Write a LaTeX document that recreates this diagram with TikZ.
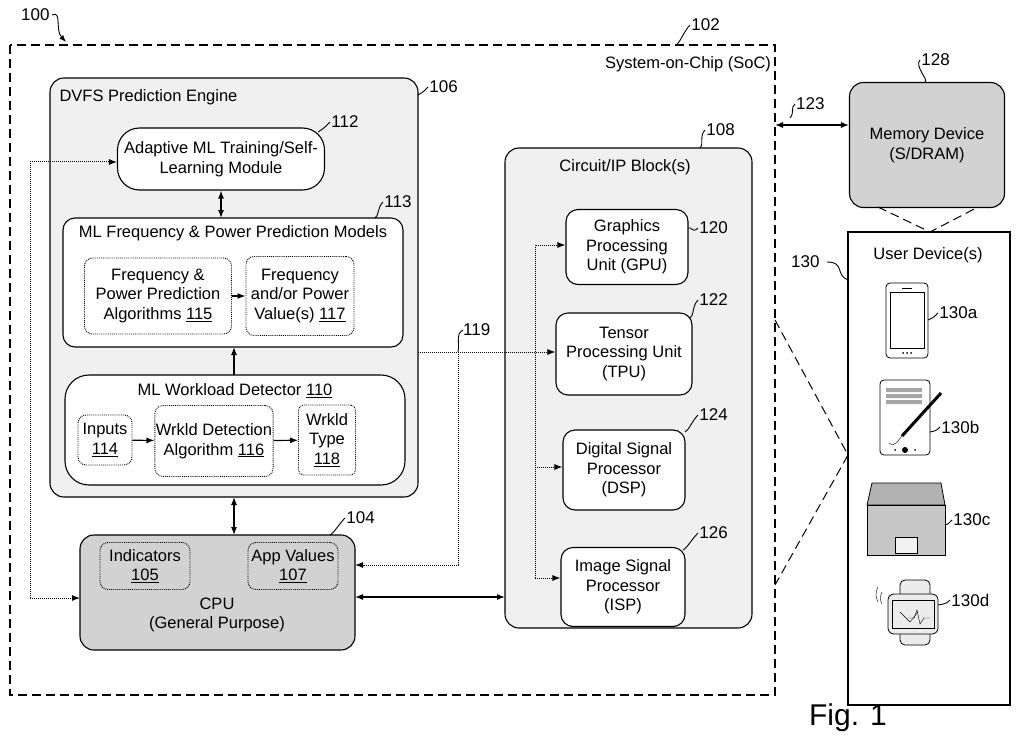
\documentclass[tikz,border=0pt]{standalone}
\usepackage{fontspec}
\setmainfont{Liberation Sans}
\usetikzlibrary{arrows.meta}
\tikzset{
  box/.style={draw, line width=1.1pt, rounded corners=12pt, fill=white, align=center, inner sep=1pt},
  soft/.style={draw, line width=1.1pt, rounded corners=14pt, fill=gray!12},
  dark/.style={draw, line width=1.1pt, rounded corners=14pt, fill=gray!35},
  sub/.style={draw, densely dotted, line width=0.9pt, rounded corners=8pt, align=center, inner sep=1pt},
  link/.style={line width=1.2pt, -{Latex[length=8pt]}},
  dlink/.style={line width=1.2pt, {Latex[length=8pt]}-{Latex[length=8pt]}},
  dotlink/.style={densely dotted, line width=1pt, -{Latex[length=8pt]}},
  longdash/.style={line width=1.2pt, dash pattern=on 9pt off 5pt},
  refnum/.style={font=\fontsize{17}{19}\selectfont, anchor=west, inner sep=1pt}
}
\newcommand{\leader}[3]{\draw[line width=0.9pt] #1 .. controls +(4,-2) and +(-6,6) .. #2 node[refnum] {#3};}
\begin{document}
\begin{tikzpicture}[x=1pt,y=-1pt,font=\fontsize{16.5}{19.5}\selectfont]
  \useasboundingbox (0,0) rectangle (1024,746);

  % SoC
  \draw[longdash] (10,45) rectangle (775,695);
  \node (soctitle) at (688,64) {System-on-Chip (SoC)};
  \node[refnum] (n100) at (20,15) {100};
  \draw[line width=0.9pt, -{Latex[length=7pt]}] (52,15) .. controls (62,10) and (55,30) .. (66,42);
  \leader{(676,45)}{(690,25)}{102}

  % DVFS Prediction Engine
  \draw[soft] (50,78) rectangle (418,497);
  \node[anchor=west] (dvfs) at (56,97) {DVFS Prediction Engine};
  \leader{(418,95)}{(428,87)}{106}

  \node[box, minimum width=207pt, minimum height=62pt, rounded corners=22pt] (train) at (221,159)
       {Adaptive ML Training/Self-\\Learning Module};
  \leader{(318,132)}{(330,122)}{112}

  \draw[box] (63,218) rectangle (403,347);
  \node (models) at (233,233) {ML Frequency \& Power Prediction Models};
  \leader{(375,218)}{(383,202)}{113}
  \node[sub, minimum width=147pt, minimum height=76pt] (algos) at (158,296)
       {Frequency \&\\Power Prediction\\Algorithms \underline{115}};
  \node[sub, minimum width=108pt, minimum height=79pt] (values) at (300,296)
       {Frequency\\and/or Power\\Value(s) \underline{117}};

  \draw[box, rounded corners=24pt] (65,375) rectangle (405,485);
  \node (detector) at (235,391) {ML Workload Detector \underline{110}};
  \node[sub, minimum width=54pt, minimum height=50pt] (inputs) at (105,440) {Inputs\\\underline{114}};
  \node[sub, minimum width=115pt, minimum height=71pt] (detalg) at (214,441)
       {Wrkld Detection\\Algorithm \underline{116}};
  \node[sub, minimum width=57pt, minimum height=70pt, rounded corners=5pt] (wtype) at (327,440)
       {Wrkld\\Type\\\underline{118}};
  \coordinate (modelsS) at (234,347);
  \coordinate (detN) at (234,375);

  % CPU
  \draw[dark] (80,535) rectangle (355,650);
  \node[sub, minimum width=90pt, minimum height=47pt] (ind) at (145,566) {Indicators\\\underline{105}};
  \node[sub, minimum width=90pt, minimum height=47pt] (app) at (293,566) {App Values\\\underline{107}};
  \node[align=center] (cpu) at (217,615) {CPU\\(General Purpose)};
  \leader{(330,535)}{(345,518)}{104}

  % Circuit/IP Blocks
  \draw[soft] (505,148) rectangle (752,628);
  \node (blocks) at (625,167) {Circuit/IP Block(s)};
  \leader{(700,148)}{(705,130)}{108}
  \node[box, minimum width=122pt, minimum height=75pt] (gpu) at (627,247) {Graphics\\Processing\\Unit (GPU)};
  \leader{(688,228)}{(698,228)}{120}
  \node[box, minimum width=136pt, minimum height=82pt] (tpu) at (624,354) {Tensor\\Processing Unit\\(TPU)};
  \leader{(690,318)}{(698,300)}{122}
  \node[box, minimum width=122pt, minimum height=80pt] (dsp) at (624,470) {Digital Signal\\Processor\\(DSP)};
  \leader{(685,432)}{(698,415)}{124}
  \node[box, minimum width=124pt, minimum height=79pt] (isp) at (623,587) {Image Signal\\Processor\\(ISP)};
  \leader{(683,550)}{(698,533)}{126}

  % Memory and user devices
  \node[dark, minimum width=155pt, minimum height=125pt, align=center] (mem) at (927,145)
       {Memory Device\\(S/DRAM)};
  \leader{(925,82)}{(920,60)}{128}
  \draw[line width=1.1pt] (848,232) rectangle (1010,705);
  \node (users) at (928,255) {User Device(s)};
  \node[refnum] (n130) at (790,262) {130};
  \draw[line width=0.9pt] (827,262) .. controls (845,262) and (835,275) .. (848,280);
  \draw[longdash, line width=1pt] (878,207) -- (930,232) -- (978,207);
  \draw[longdash, line width=1pt] (775,320) -- (848,455) -- (775,585);

  % phone
  \draw[thick, rounded corners=4pt] (886,283) rectangle (928,358);
  \draw (890,292) rectangle (924,348);
  \draw[thick] (902,288) -- (912,288);
  \foreach \x in {903,907,911} \fill (\x,353) circle (1pt);
  \leader{(928,320)}{(938,313)}{130a}
  % tablet
  \draw[thick, rounded corners=4pt] (880,380) rectangle (930,455);
  \fill[gray!70] (886,388) rectangle (922,392) (886,394) rectangle (922,398) (886,400) rectangle (922,404);
  \draw[line width=3pt] (902,436) -- (941,393);
  \draw (889,443) .. controls (895,448) and (898,440) .. (902,436);
  \fill (905,450) circle (3pt) (895,450) circle (1pt) (915,450) circle (1pt);
  \leader{(930,432)}{(940,427)}{130b}
  % laptop
  \draw[thick, fill=gray!60] (872,483) -- (941,483) -- (945,505) -- (867,505) -- cycle;
  \draw[thick, fill=gray!45] (867,505) rectangle (945,555);
  \draw[fill=gray!10] (895,537) rectangle (917,553);
  \leader{(945,525)}{(952,520)}{130c}
  % watch
  \draw[thick, fill=gray!15, rounded corners=5pt] (900,580) rectangle (930,645);
  \draw[thick, fill=gray!15, rounded corners=6pt] (888,594) rectangle (938,634);
  \draw (892,600) rectangle (934,628);
  \draw (900,612) -- (910,622) -- (918,612);
  \draw (908,618) -- (914,618) -- (917,610) -- (920,624) -- (924,618) -- (930,618);
  \draw (882,604) arc (150:210:12) (878,602) arc (150:210:15);
  \leader{(938,605)}{(950,600)}{130d}

  \node[font=\fontsize{30}{34}\selectfont] (fig) at (848,718) {Fig. 1};

  % connectors
  \draw[dlink] (train.south) -- (train.south |- 0,218);
  \draw[link] (algos) -- (values);
  \draw[link] (detN) -- (modelsS);
  \draw[link] (inputs) -- (detalg);
  \draw[link] (detalg) -- (wtype);
  \draw[dlink] (234,497) -- (234,535);
  \draw[dlink] (355,597) -- (505,597);
  \draw[dlink] (775,125) -- (mem.west |- 0,125);
  \node[refnum] (n123) at (795,104) {123};
  \draw[line width=0.9pt] (790,118) .. controls (795,112) and (790,108) .. (795,104);
  \draw[dotlink] (30,598) -- (30,162) -- (train.west |- 0,162);
  \draw[dotlink] (30,598) -- (80,598);
  \draw[dotlink] (418,352) -- (tpu.west |- 0,352);
  \draw[dotlink] (458,352) -- (458,565) -- (355,565);
  \node[refnum] (n119) at (462,330) {119};
  \draw[line width=0.9pt] (458,352) .. controls (460,340) and (455,335) .. (463,330);
  \draw[dotlink] (535,578) -- (535,245) -- (gpu.west |- 0,245);
  \draw[dotlink] (535,467) -- (dsp.west |- 0,467);
  \draw[dotlink] (535,578) -- (isp.west |- 0,578);
\end{tikzpicture}
\end{document}
